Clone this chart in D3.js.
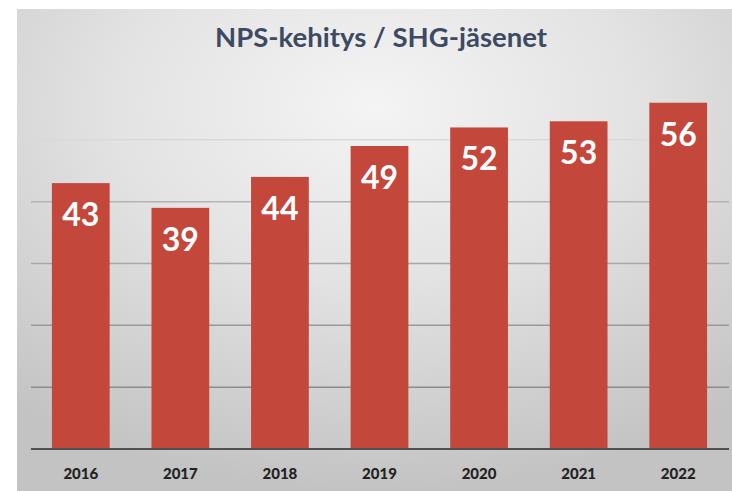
<!DOCTYPE html>
<html>
<head>
<meta charset="utf-8">
<script src="https://cdn.jsdelivr.net/npm/d3@7"></script>
<style>
  html, body { margin: 0; padding: 0; background: #fff; }
  svg { display: block; }
</style>
</head>
<body>
<div id="chart"></div>
<script>
// NPS development for SHG members, one bar per year
const years = ["2016", "2017", "2018", "2019", "2020", "2021", "2022"];
const nps = [43, 39, 44, 49, 52, 53, 56];
const yTicks = [0, 10, 20, 30, 40, 50];
const title = "NPS-kehitys / SHG-jäsenet";

const width = 732;
const height = 491;
const margin = {top: 78, right: 4, bottom: 42, left: 31};

const svg = d3.select("#chart")
  .append("svg")
  .attr("width", width)
  .attr("height", height);

// background panel with soft gradient
const defs = svg.append("defs");
const grad = defs.append("radialGradient")
  .attr("id", "bg")
  .attr("cx", "50%").attr("cy", "20%")
  .attr("r", "80%");
grad.append("stop").attr("offset", "0%").attr("stop-color", "#f4f4f4");
grad.append("stop").attr("offset", "45%").attr("stop-color", "#e3e3e3");
grad.append("stop").attr("offset", "100%").attr("stop-color", "#c3c3c3");

svg.append("rect")
  .attr("x", 17).attr("y", 9)
  .attr("width", width - 17).attr("height", height - 9)
  .attr("fill", "url(#bg)");

const x = d3.scaleBand()
  .domain(years)
  .range([margin.left, width - margin.right])
  .paddingInner(0.42)
  .paddingOuter(0.21);

const y = d3.scaleLinear()
  .domain([0, 60])
  .range([height - margin.bottom, margin.top]);

// gridlines fade out towards the top, like the original
const gridColor = d3.scaleLinear()
  .domain([10, 40, 50])
  .range(["#8c8c8c", "#b4b4b4", "#d9d9d9"]);

svg.append("g")
  .selectAll("line")
  .data(yTicks.filter(d => d > 0))
  .join("line")
  .attr("x1", margin.left)
  .attr("x2", width - 3)
  .attr("y1", d => y(d))
  .attr("y2", d => y(d))
  .attr("stroke", d => gridColor(d))
  .attr("stroke-width", 1.5);

// bars
svg.append("g")
  .selectAll("rect")
  .data(nps)
  .join("rect")
  .attr("x", (d, i) => x(years[i]))
  .attr("y", d => y(d))
  .attr("width", x.bandwidth())
  .attr("height", d => y(0) - y(d))
  .attr("fill", "#c4473b");

// value labels inside bars
svg.append("g")
  .selectAll("text")
  .data(nps)
  .join("text")
  .attr("x", (d, i) => x(years[i]) + x.bandwidth() / 2)
  .attr("y", d => y(d) + 43)
  .attr("text-anchor", "middle")
  .attr("fill", "#fff")
  .attr("font-family", "Lato, sans-serif")
  .attr("font-weight", "bold")
  .attr("font-size", 32)
  .text(d => d);

// baseline
svg.append("line")
  .attr("x1", margin.left)
  .attr("x2", width - 3)
  .attr("y1", y(0))
  .attr("y2", y(0))
  .attr("stroke", "#505050")
  .attr("stroke-width", 2);

// x axis labels
const xAxis = d3.axisBottom(x).tickSize(0).tickPadding(19);
svg.append("g")
  .attr("transform", `translate(0,${y(0)})`)
  .call(xAxis)
  .call(g => g.select(".domain").remove())
  .call(g => g.selectAll("text")
    .attr("fill", "#222")
    .attr("font-family", "Lato, sans-serif")
    .attr("font-weight", "900")
    .attr("font-size", 15));

// title
svg.append("text")
  .attr("x", 381)
  .attr("y", 47)
  .attr("text-anchor", "middle")
  .attr("fill", "#3c4a63")
  .attr("font-family", "Lato, sans-serif")
  .attr("font-weight", "bold")
  .attr("font-size", 27.5)
  .text(title);
</script>
</body>
</html>
